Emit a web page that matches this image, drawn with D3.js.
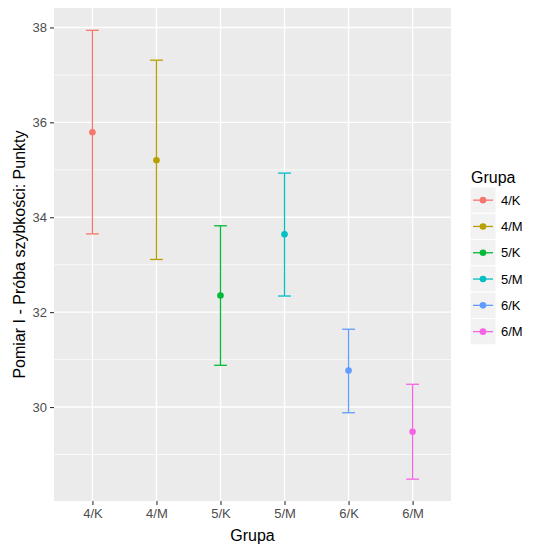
<!DOCTYPE html>
<html><head><meta charset="utf-8">
<script src="https://cdn.jsdelivr.net/npm/d3@7"></script>
<style>body{margin:0;background:#fff}svg{display:block;font-family:"Liberation Sans",Arial,sans-serif}</style>
</head><body><svg id="c" width="551" height="551"></svg>
<script>
const groups = ["4/K","4/M","5/K","5/M","6/K","6/M"];
const means  = [35.79, 35.20, 32.35, 33.64, 30.77, 29.48];
const lowers = [33.65, 33.11, 30.88, 32.34, 29.88, 28.48];
const uppers = [37.94, 37.31, 33.82, 34.93, 31.64, 30.48];
const colors = ["#F8766D","#B79F00","#00BA38","#00BFC4","#619CFF","#F564E3"];
const yTicks = [30,32,34,36,38];
const yMinor = [29,31,33,35,37];

const svg = d3.select("#c");
const L=54, T=8, R=451, B=501;
const x = d3.scalePoint().domain(groups).range([L,R]).padding(0.6);
const y = d3.scaleLinear().domain([28.02,38.41]).range([B,T]);
const col = d3.scaleOrdinal().domain(groups).range(colors);

svg.append("rect").attr("x",L).attr("y",T).attr("width",R-L).attr("height",B-T).attr("fill","#EBEBEB");
const g = svg.append("g");
g.selectAll(".mn").data(yMinor).join("line").attr("x1",L).attr("x2",R)
 .attr("y1",d=>y(d)).attr("y2",d=>y(d)).attr("stroke","#fff").attr("stroke-width",0.7);
g.selectAll(".mj").data(yTicks).join("line").attr("x1",L).attr("x2",R)
 .attr("y1",d=>y(d)).attr("y2",d=>y(d)).attr("stroke","#fff").attr("stroke-width",1.4);
g.selectAll(".vx").data(groups).join("line").attr("y1",T).attr("y2",B)
 .attr("x1",d=>x(d)).attr("x2",d=>x(d)).attr("stroke","#fff").attr("stroke-width",1.4);

// axes
const yAxis = svg.append("g").attr("transform",`translate(${L},0)`)
  .call(d3.axisLeft(y).tickValues(yTicks).tickSize(4).tickPadding(3));
const xAxis = svg.append("g").attr("transform",`translate(0,${B})`)
  .call(d3.axisBottom(x).tickSize(4).tickPadding(4));
[yAxis,xAxis].forEach(a=>{
  a.select(".domain").remove();
  a.selectAll(".tick line").attr("stroke","#333").attr("stroke-width",1.1);
  a.selectAll(".tick text").attr("fill","#4D4D4D").style("font-size","13px").style("font-family","Liberation Sans, Arial, sans-serif");
});

// error bars
const data = groups.map((gname,i)=>({g:gname,m:means[i],lo:lowers[i],hi:uppers[i]}));
const hw = x.step()*0.1;
const eb = svg.append("g").selectAll("g").data(data).join("g").attr("stroke",d=>col(d.g)).attr("stroke-width",1.3);
eb.append("line").attr("x1",d=>x(d.g)).attr("x2",d=>x(d.g)).attr("y1",d=>y(d.lo)).attr("y2",d=>y(d.hi));
eb.append("line").attr("x1",d=>x(d.g)-hw).attr("x2",d=>x(d.g)+hw).attr("y1",d=>y(d.lo)).attr("y2",d=>y(d.lo));
eb.append("line").attr("x1",d=>x(d.g)-hw).attr("x2",d=>x(d.g)+hw).attr("y1",d=>y(d.hi)).attr("y2",d=>y(d.hi));
svg.append("g").selectAll("circle").data(data).join("circle")
  .attr("cx",d=>x(d.g)).attr("cy",d=>y(d.m)).attr("r",3.3).attr("fill",d=>col(d.g));

// titles
svg.append("text").attr("x",(L+R)/2).attr("y",541).attr("text-anchor","middle")
  .style("font-size","16px").attr("fill","#000").text("Grupa");
svg.append("text").attr("transform",`translate(25,${(T+B)/2}) rotate(-90)`).attr("text-anchor","middle")
  .style("font-size","16px").attr("fill","#000").text("Pomiar I - Próba szybkości: Punkty");

// legend
const lg = svg.append("g");
lg.append("text").attr("x",471).attr("y",183).style("font-size","16px").attr("fill","#000").text("Grupa");
const ks = 26.3, ky0 = 187;
const items = lg.selectAll(".k").data(groups).join("g").attr("transform",(d,i)=>`translate(470,${ky0+i*ks})`);
items.append("rect").attr("width",26).attr("height",ks).attr("fill","#F2F2F2").attr("stroke","#fff").attr("stroke-width",1);
items.append("line").attr("x1",3).attr("x2",23).attr("y1",ks/2).attr("y2",ks/2).attr("stroke",d=>col(d)).attr("stroke-width",1.3);
items.append("circle").attr("cx",13).attr("cy",ks/2).attr("r",3.3).attr("fill",d=>col(d));
items.append("text").attr("x",31).attr("y",ks/2).attr("dy","0.36em").style("font-size","13px").attr("fill","#000").text(d=>d);
</script></body></html>
